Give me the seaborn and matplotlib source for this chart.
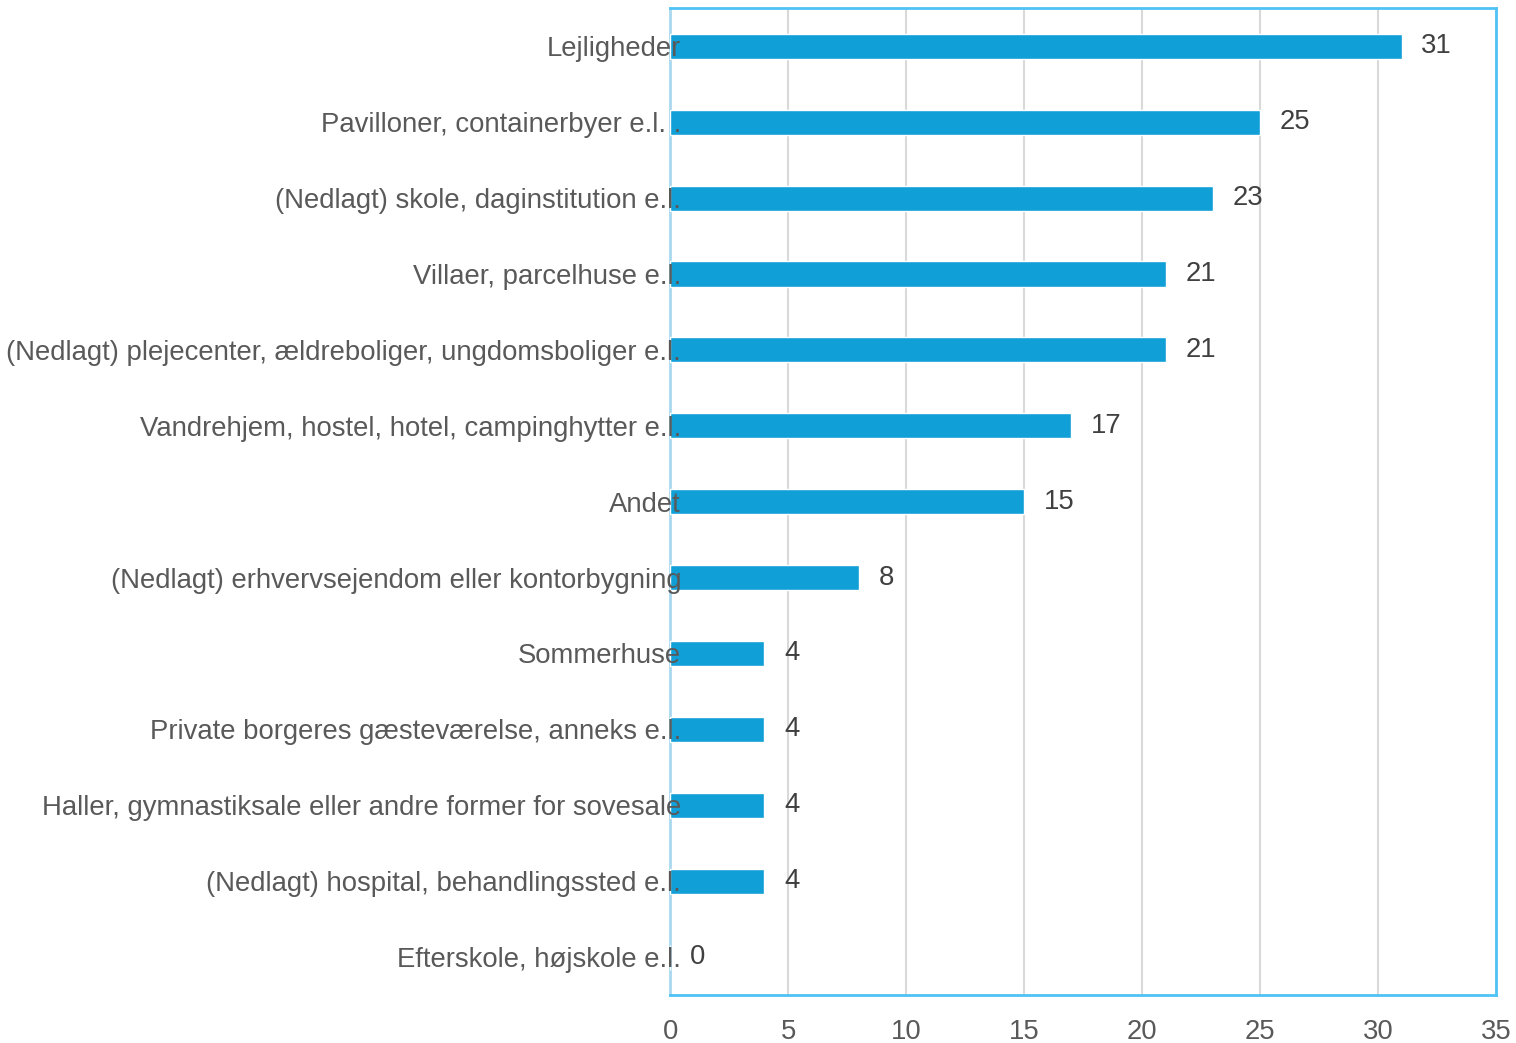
import pandas as pd
import matplotlib.pyplot as plt
import seaborn as sns

# Data
categories = ["Lejligheder",
              "Pavilloner, containerbyer e.l. .",
              "(Nedlagt) skole, daginstitution e.l.",
              "Villaer, parcelhuse e.l.",
              "(Nedlagt) plejecenter, ældreboliger, ungdomsboliger e.l.",
              "Vandrehjem, hostel, hotel, campinghytter e.l.",
              "Andet",
              "(Nedlagt) erhvervsejendom eller kontorbygning",
              "Sommerhuse",
              "Private borgeres gæsteværelse, anneks e.l.",
              "Haller, gymnastiksale eller andre former for sovesale",
              "(Nedlagt) hospital, behandlingssted e.l.",
              "Efterskole, højskole e.l."]
values = [31, 25, 23, 21, 21, 17, 15, 8, 4, 4, 4, 4, 0]

df = pd.DataFrame({"Kategori": categories, "Antal": values})

sns.set_theme(style="white")
plt.rcParams['font.family'] = ['Liberation Sans', 'DejaVu Sans']

text_col = "#595959"
bar_col = "#109FD6"

fig, ax = plt.subplots(figsize=(15.16, 10.43), dpi=100)
fig.subplots_adjust(left=0.442, right=0.987, top=0.992, bottom=0.046)

sns.barplot(data=df, x="Antal", y="Kategori", color=bar_col, width=0.33,
            saturation=1, ax=ax, zorder=3)

ax.bar_label(ax.containers[0], padding=14, fontsize=19.8, color="#404040")

ax.set_xlim(0, 35)
ax.set_xticks(range(0, 36, 5))
ax.xaxis.grid(True, color="#D9D9D9", lw=1.5, zorder=0)
ax.set_xlabel("")
ax.set_ylabel("")
ax.tick_params(axis="both", length=0, labelsize=19.8, colors=text_col)
ax.tick_params(axis="x", pad=17)
ax.tick_params(axis="y", pad=-8)
# category labels sit on top of the bars, like in the original
ax.yaxis.set_zorder(5)

for side in ["top", "right", "bottom"]:
    ax.spines[side].set_color("#4FC3F7")
    ax.spines[side].set_linewidth(2)
ax.spines["left"].set_color("#A9D8EE")
ax.spines["left"].set_linewidth(2)

fig.savefig("out.png", dpi=100)
